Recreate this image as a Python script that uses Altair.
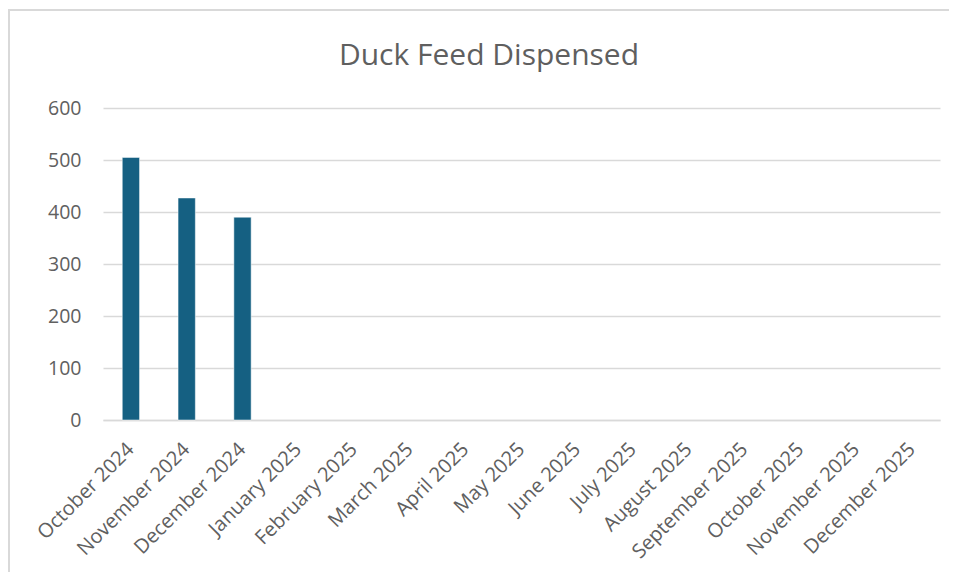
import altair as alt
import pandas as pd

months = ["October 2024", "November 2024", "December 2024", "January 2025",
          "February 2025", "March 2025", "April 2025", "May 2025", "June 2025",
          "July 2025", "August 2025", "September 2025", "October 2025",
          "November 2025", "December 2025"]
feed = [505, 427, 390, None, None, None, None, None, None, None, None, None, None, None, None]
title_text = ["Duck Feed Dispensed"]

df = pd.DataFrame({"month": months, "feed": feed})

W, H = 837, 312
PAD_L, PAD_T = 95, 100
TOTAL_W, TOTAL_H = 941, 564

bars = alt.Chart(df).mark_bar(color="#156082", stroke="#ffffff", strokeWidth=0.5).encode(
    x=alt.X("month:N", sort=months, title=None,
            scale=alt.Scale(paddingInner=0.69, paddingOuter=0.345),
            axis=alt.Axis(labelAngle=-45, labelAlign="right", labelBaseline="middle",
                          labelPadding=26, ticks=False, domainColor="#d9d9d9",
                          domainWidth=1.5, labelColor="#606060", labelFontSize=20,
                          labelFont="Open Sans", grid=False)),
    y=alt.Y("feed:Q", title=None,
            scale=alt.Scale(domain=[0, 600], nice=False),
            axis=alt.Axis(values=[0, 100, 200, 300, 400, 500, 600], ticks=False,
                          domain=False, labelPadding=22, labelColor="#606060",
                          labelFontSize=19.5, labelFont="Open Sans",
                          gridColor="#d9d9d9", gridWidth=1.5)),
)

frame = alt.Chart(pd.DataFrame({"k": [0]})).mark_rect(
    fill=None, stroke="#d9d9d9", strokeWidth=2
).encode(
    x=alt.value(-94), x2=alt.value(W + 200),
    y=alt.value(-98), y2=alt.value(H + 300),
)

title = alt.Chart(pd.DataFrame({"t": title_text})).mark_text(
    fontSize=30, font="Open Sans", color="#5f5f5f", align="center", baseline="alphabetic"
).encode(
    text="t:N",
    x=alt.value(386), y=alt.value(-43),
)

chart = alt.layer(frame, bars, title).properties(
    width=W, height=H,
    background="white",
    autosize=alt.AutoSizeParams(type="none"),
    padding={"left": PAD_L, "top": PAD_T, "right": TOTAL_W - PAD_L - W, "bottom": TOTAL_H - PAD_T - H},
).configure_view(strokeWidth=0, stroke="transparent")

chart.save("out.html", embed_options={"renderer": "svg", "actions": False})
